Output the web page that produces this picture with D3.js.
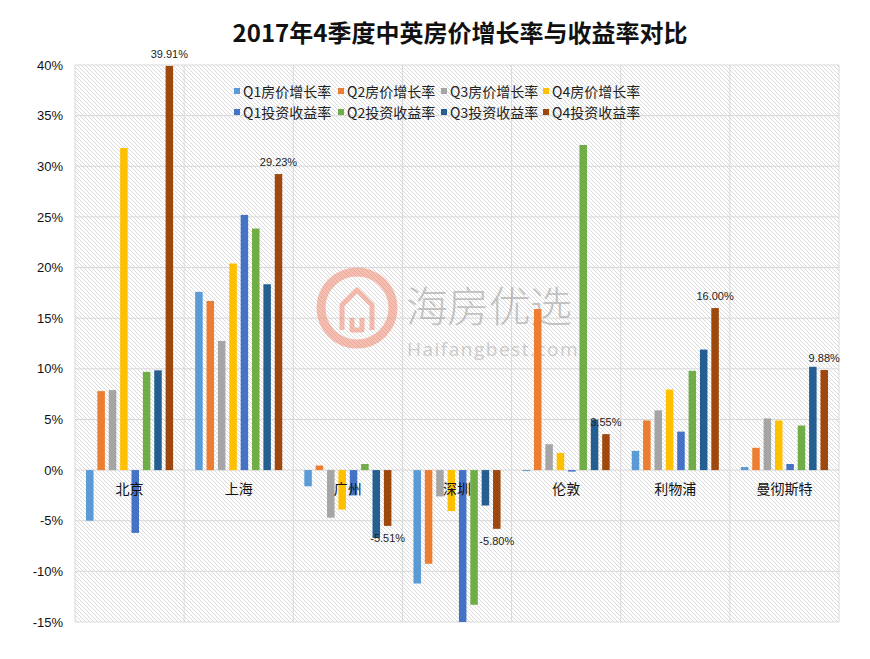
<!DOCTYPE html>
<html><head><meta charset="utf-8">
<script src="https://cdn.jsdelivr.net/npm/d3@7"></script>
<style>body{margin:0;background:#fff;font-family:"Noto Sans CJK SC","Liberation Sans",sans-serif;}</style>
</head><body>
<svg id="c" width="870" height="659"></svg>
<script>
const categories = ["北京","上海","广州","深圳","伦敦","利物浦","曼彻斯特"];
const seriesNames = ["Q1房价增长率","Q2房价增长率","Q3房价增长率","Q4房价增长率","Q1投资收益率","Q2投资收益率","Q3投资收益率","Q4投资收益率"];
const q1Price = [-5.0, 17.6, -1.6, -11.2, -0.1, 1.9, 0.3];
const q2Price = [7.8, 16.7, 0.45, -9.25, 15.9, 4.9, 2.2];
const q3Price = [7.9, 12.75, -4.7, -2.6, 2.55, 5.9, 5.1];
const q4Price = [31.8, 20.4, -3.9, -4.05, 1.7, 7.95, 4.9];
const q1Invest = [-6.2, 25.2, -2.5, -15.0, -0.15, 3.8, 0.6];
const q2Invest = [9.7, 23.85, 0.6, -13.3, 32.1, 9.8, 4.4];
const q3Invest = [9.85, 18.35, -6.7, -3.5, 5.0, 11.9, 10.2];
const q4Invest = [39.91, 29.23, -5.51, -5.80, 3.55, 16.00, 9.88];
const yTicks = [-15,-10,-5,0,5,10,15,20,25,30,35,40];
const colors = ["#5B9BD5","#ED7D31","#A5A5A5","#FFC000","#4472C4","#70AD47","#255E91","#9E480E"];
const allSeries = [q1Price,q2Price,q3Price,q4Price,q1Invest,q2Invest,q3Invest,q4Invest];

const svg = d3.select("#c");
const m = {l:75, r:31, t:65, b:37};
const W = 870, H = 659;
const x0 = d3.scaleBand().domain(categories).range([m.l, W - m.r]).paddingInner(0).paddingOuter(0);
const x1 = d3.scaleBand().domain(seriesNames).range([0, x0.bandwidth()]).paddingInner(0.34).paddingOuter(0.97);
const y = d3.scaleLinear().domain([-15, 40]).range([H - m.b, m.t]);

const defs = svg.append("defs");
const pat = defs.append("pattern").attr("id","hatch").attr("patternUnits","userSpaceOnUse")
  .attr("width",4).attr("height",4);
pat.append("rect").attr("width",4).attr("height",4).attr("fill","#fff");
pat.append("path").attr("d","M-1,-1 L5,5 M-1,3 L1,5 M3,-1 L5,1").attr("stroke","#d6d6d6").attr("stroke-width",0.9);

// plot background
svg.append("rect").attr("x", m.l).attr("y", y(40)).attr("width", W - m.r - m.l).attr("height", y(-15) - y(40))
  .attr("fill","url(#hatch)");

// horizontal gridlines
svg.append("g").selectAll("line").data(yTicks).join("line")
  .attr("x1", m.l).attr("x2", W - m.r).attr("y1", d => y(d)).attr("y2", d => y(d))
  .attr("stroke","#d9d9d9").attr("stroke-width",1);
// vertical gridlines at category boundaries
const bounds = categories.map(c => x0(c)).concat([W - m.r]);
svg.append("g").selectAll("line").data(bounds).join("line")
  .attr("x1", d => d).attr("x2", d => d).attr("y1", y(40)).attr("y2", y(-15))
  .attr("stroke","#d9d9d9").attr("stroke-width",1);

// watermark
const wm = svg.append("g").attr("opacity",0.55);
wm.append("circle").attr("cx",357).attr("cy",308).attr("r",36).attr("fill","none").attr("stroke","#f08a70").attr("stroke-width",9);
wm.append("path").attr("d","M342,330 L342,305 L357,290 L372,305 L372,330 M352,318 L352,330 L362,330 L362,318")
  .attr("fill","none").attr("stroke","#f08a70").attr("stroke-width",5).attr("stroke-linejoin","round");
wm.append("text").attr("x",406).attr("y",322).attr("font-size",42).attr("fill","#999").attr("font-weight",300).attr("textLength",166).text("海房优选");
wm.append("text").attr("x",407).attr("y",356).attr("font-size",19).attr("fill","#aaa").attr("letter-spacing",1.5).attr("font-family","Open Sans, sans-serif").text("Haifangbest.com");

// y axis labels
const yAxis = d3.axisLeft(y).tickValues(yTicks).tickFormat(d => d + "%").tickSize(0).tickPadding(12);
const ya = svg.append("g").attr("transform",`translate(${m.l},0)`).call(yAxis);
ya.select(".domain").remove();
ya.selectAll("text").attr("font-size",13).attr("fill","#111").attr("font-family","Liberation Sans, Arial, sans-serif");

// bars
const groups = svg.append("g").selectAll("g").data(categories).join("g")
  .attr("transform", c => `translate(${x0(c)},0)`);
groups.selectAll("rect").data((c,i) => seriesNames.map((s,j) => ({s, j, v: allSeries[j][i]}))).join("rect")
  .attr("x", d => x1(d.s)).attr("width", x1.bandwidth())
  .attr("y", d => y(Math.max(0, d.v))).attr("height", d => Math.max(1, Math.abs(y(d.v) - y(0))))
  .attr("fill", d => colors[d.j]);

// category labels
svg.append("g").selectAll("text").data(categories).join("text")
  .attr("x", c => x0(c) + x0.bandwidth()/2).attr("y", y(0) + 24)
  .attr("text-anchor","middle").attr("font-size",14).attr("fill","#111").text(c => c);

// data labels for Q4 invest
svg.append("g").selectAll("text").data(categories).join("text")
  .attr("x", (c,i) => x0(c) + x1(seriesNames[7]) + x1.bandwidth()/2)
  .attr("y", (c,i) => q4Invest[i] >= 0 ? y(q4Invest[i]) - 8 : y(q4Invest[i]) + 16)
  .attr("text-anchor","middle").attr("font-size",11).attr("fill","#222")
  .attr("font-family","Liberation Sans, Arial, sans-serif")
  .text((c,i) => q4Invest[i].toFixed(2) + "%");

// title
svg.append("text").attr("x",460).attr("y",42).attr("text-anchor","middle")
  .attr("font-size",24).attr("font-weight","bold").attr("fill","#111").text("2017年4季度中英房价增长率与收益率对比");

// legend
const legX = [234, 338, 441, 543];
const legY = [92, 113];
const leg = svg.append("g").selectAll("g").data(seriesNames).join("g")
  .attr("transform", (d,i) => `translate(${legX[i%4]},${legY[Math.floor(i/4)]})`);
leg.append("rect").attr("x",0).attr("y",-4).attr("width",6).attr("height",6).attr("fill",(d,i) => colors[i]);
leg.append("text").attr("x",9).attr("y",5).attr("font-size",14).attr("fill","#222").text(d => d);
</script>
</body></html>
